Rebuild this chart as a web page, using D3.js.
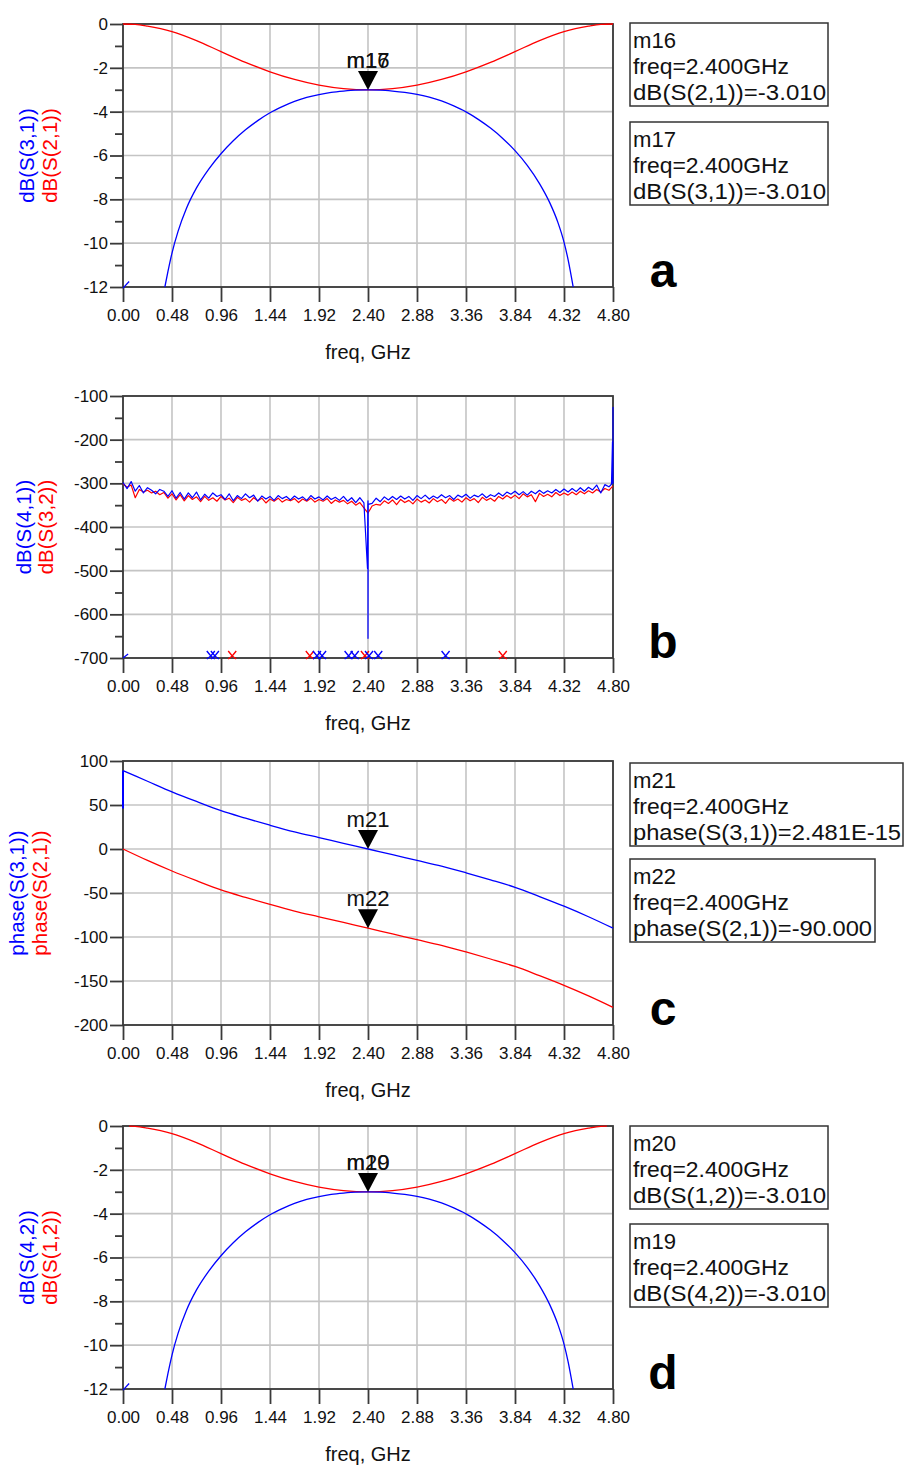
<!DOCTYPE html>
<html><head><meta charset="utf-8">
<script src="https://cdn.jsdelivr.net/npm/d3@7"></script>
<style>
body{margin:0;background:#fff}
svg{display:block}
text{font-family:"Liberation Sans",Arial,sans-serif}
</style>
</head><body>
<svg id="chart" width="904" height="1468"></svg>
<script>
// ---------- shared axis data ----------
const xTicks = [0, 0.48, 0.96, 1.44, 1.92, 2.40, 2.88, 3.36, 3.84, 4.32, 4.80];
const dbTicks = [0, -2, -4, -6, -8, -10, -12];
const dbMinor = [-1, -3, -5, -7, -9, -11];
const isoTicks = [-100, -200, -300, -400, -500, -600, -700];
const isoMinor = [-150, -250, -350, -450, -550, -650];
const phaseTicks = [100, 50, 0, -50, -100, -150, -200];

// ---------- panel a / d : coupling (dB) ----------
const thruFreq = [0, 0.12, 0.24, 0.48, 0.72, 0.96, 1.2, 1.44, 1.68, 1.92, 2.16, 2.4, 2.64, 2.88, 3.12, 3.36, 3.6, 3.84, 4.08, 4.32, 4.56, 4.68, 4.8];
const thruDb   = [0, -0.02, -0.10, -0.35, -0.76, -1.26, -1.75, -2.18, -2.53, -2.79, -2.95, -3.01, -2.95, -2.79, -2.53, -2.18, -1.75, -1.26, -0.76, -0.35, -0.10, -0.02, 0];
const thruFreqD = [0.06, 0.12, 0.24, 0.48, 0.72, 0.96, 1.2, 1.44, 1.68, 1.92, 2.16, 2.4, 2.64, 2.88, 3.12, 3.36, 3.6, 3.84, 4.08, 4.32, 4.56, 4.68, 4.74];
const thruDbD   = [-0.01, -0.02, -0.10, -0.35, -0.76, -1.26, -1.75, -2.18, -2.53, -2.79, -2.95, -3.01, -2.95, -2.79, -2.53, -2.18, -1.75, -1.26, -0.76, -0.35, -0.10, -0.02, -0.01];
const cplFreq = [0.41, 0.44, 0.48, 0.54, 0.62, 0.72, 0.84, 0.96, 1.08, 1.2, 1.32, 1.44, 1.56, 1.68, 1.8, 1.92, 2.04, 2.16, 2.28, 2.4,
                 2.52, 2.64, 2.76, 2.88, 3.0, 3.12, 3.24, 3.36, 3.48, 3.6, 3.72, 3.84, 3.96, 4.08, 4.18, 4.26, 4.32, 4.36, 4.41];
const cplDb   = [-12.0, -11.3, -10.45, -9.45, -8.43, -7.48, -6.62, -5.92, -5.33, -4.83, -4.41, -4.05, -3.77, -3.53, -3.35, -3.22, -3.12, -3.06, -3.02, -3.01,
                 -3.02, -3.06, -3.12, -3.21, -3.34, -3.51, -3.74, -4.01, -4.35, -4.75, -5.22, -5.78, -6.45, -7.28, -8.15, -9.05, -9.95, -10.75, -12.0];
const stubFreq = [0, 0.06];
const stubDb = [-12.05, -11.75];

// ---------- panel b : isolation (dB) ----------
const isoFreq = d3.range(0, 121).map(i => +(i * 0.04).toFixed(2));
const isoBlue = [-298,-312,-296,-318,-305,-322,-310,-316,-324,-314,-318,-330,-317,-334,-321,-336,-322,-333,-320,-338,
  -325,-334,-322,-330,-326,-337,-324,-340,-328,-335,-324,-333,-327,-341,-329,-336,-330,-339,-328,-335,
  -330,-338,-329,-336,-331,-339,-328,-336,-331,-338,-329,-337,-332,-339,-330,-341,-333,-344,-333,-345,
  -340,-346,-334,-342,-331,-338,-330,-337,-329,-336,-330,-339,-328,-335,-327,-336,-329,-334,-326,-333,
  -328,-337,-327,-332,-325,-334,-327,-331,-324,-333,-326,-330,-322,-329,-320,-325,-318,-326,-319,-327,
  -318,-324,-316,-323,-317,-322,-314,-321,-313,-320,-312,-319,-310,-318,-309,-315,-304,-322,-303,-308,-300];
const isoRed = [-301,-309,-304,-333,-314,-320,-316,-322,-318,-326,-321,-334,-324,-338,-326,-340,-328,-337,-331,-342,
  -330,-339,-333,-341,-330,-338,-334,-344,-332,-339,-335,-343,-333,-340,-334,-345,-336,-341,-334,-343,
  -337,-340,-335,-344,-336,-341,-334,-343,-337,-341,-335,-346,-338,-343,-339,-347,-341,-350,-344,-356,
  -368,-352,-348,-350,-340,-346,-338,-349,-337,-344,-339,-347,-336,-343,-338,-345,-335,-342,-337,-346,
  -334,-341,-336,-343,-333,-340,-335,-344,-332,-339,-334,-341,-330,-336,-328,-334,-327,-335,-324,-331,
  -326,-342,-323,-330,-325,-331,-321,-328,-322,-327,-320,-326,-318,-324,-317,-322,-314,-320,-312,-316,-306];
const spikeFreq = [2.395, 2.398, 2.400, 2.402, 4.785, 4.795, 4.797, 4.800];
const spikeBlue = [-495, -350, -655, -348, -302, -205, -300, -125];
const zeroBlueFreq = [0.86, 0.90, 1.90, 1.95, 2.21, 2.27, 2.41, 2.50, 3.16];
const zeroRedFreq = [1.07, 1.83, 2.37, 3.72];
const isoStubFreq = [0, 0.05];
const isoStubDb = [-700, -691];

// ---------- panel c : phase (deg) ----------
const phFreq = [0, 0.24, 0.48, 0.72, 0.96, 1.2, 1.44, 1.68, 1.92, 2.16, 2.4, 2.64, 2.88, 3.12, 3.36, 3.6, 3.84, 4.08, 4.32, 4.56, 4.8];
const phThru = [0, -13, -25, -36, -46.5, -55, -63, -70.5, -77, -83.5, -90, -96.5, -103, -109.5, -117, -125, -133.5, -144, -155, -167, -180];
const phCpl  = [89, 77, 65, 54, 43.5, 35, 27, 19.5, 13, 6.5, 0, -6.5, -13, -19.5, -27, -35, -43.5, -54, -65, -77, -90];
const phStubFreq = [0, 0];
const phStubVal = [46, 89];

const BLUE = "#0000ff", RED = "#ff0000";
const svg = d3.select("#chart");
const x = d3.scaleLinear().domain([0, 4.8]).range([123, 613]);
const zip = (f, v) => f.map((d, i) => [d, v[i]]);

function panel(cfg) {
  const y = d3.scaleLinear().domain(cfg.domain).range([cfg.bottom, cfg.top]);
  const g = svg.append("g");
  // grid
  g.selectAll(".gx").data(xTicks).join("line")
    .attr("x1", d => x(d)).attr("x2", d => x(d)).attr("y1", cfg.top).attr("y2", cfg.bottom)
    .attr("stroke", "#c4c4c4").attr("stroke-width", 1.6);
  g.selectAll(".gy").data(cfg.ticks).join("line")
    .attr("x1", 123).attr("x2", 613).attr("y1", d => y(d)).attr("y2", d => y(d))
    .attr("stroke", "#c4c4c4").attr("stroke-width", 1.6);
  // frame
  g.append("rect").attr("x", 123).attr("y", cfg.top).attr("width", 490).attr("height", cfg.bottom - cfg.top)
    .attr("fill", "none").attr("stroke", "#3a3a3a").attr("stroke-width", 1.8);
  // axes
  g.append("g").attr("transform", "translate(123,0)")
    .call(d3.axisLeft(y).tickValues(cfg.ticks).tickSize(13).tickPadding(2).tickFormat(d => String(d)));
  if (cfg.minor) {
    g.append("g").attr("transform", "translate(123,0)")
      .call(d3.axisLeft(y).tickValues(cfg.minor).tickSize(8).tickFormat(""));
  }
  g.append("g").attr("transform", `translate(0,${cfg.bottom})`)
    .call(d3.axisBottom(x).tickValues(xTicks).tickSize(15).tickPadding(7).tickFormat(d3.format(".2f")));
  g.selectAll(".domain").remove();
  g.selectAll(".tick line").attr("stroke", "#3a3a3a").attr("stroke-width", 1.8);
  g.selectAll(".tick text").attr("fill", "#111").attr("font-size", 17)
    .attr("font-family", "'Liberation Sans', Arial, sans-serif");
  // axis titles
  g.append("text").attr("x", 368).attr("y", cfg.bottom + 72).attr("text-anchor", "middle")
    .attr("font-size", 20).attr("fill", "#111").text("freq, GHz");
  cfg.titles.forEach(t => {
    g.append("text").attr("transform", `translate(${t.x},${(cfg.top + cfg.bottom) / 2}) rotate(-90)`)
      .attr("text-anchor", "middle").attr("font-size", 20.5).attr("fill", t.color).text(t.text);
  });
  // series
  cfg.series.forEach(s => {
    const line = d3.line().x(d => x(d[0])).y(d => y(d[1])).curve(s.smooth ? d3.curveMonotoneX : d3.curveLinear);
    g.append("path").attr("d", line(s.pts)).attr("fill", "none")
      .attr("stroke", s.color).attr("stroke-width", s.w || 1.3).attr("stroke-linejoin", "round");
  });
  // zero-value markers on the bottom axis
  (cfg.zeros || []).forEach(z => {
    z.freq.forEach(f => {
      const cx = x(f), cy = cfg.bottom - 2;
      g.append("path").attr("d", `M${cx - 4},${cy - 5}L${cx},${cy}L${cx + 4},${cy - 5}M${cx - 4},${cy + 3}L${cx},${cy}L${cx + 4},${cy + 3}`)
        .attr("fill", "none").attr("stroke", z.color).attr("stroke-width", 1.4);
    });
  });
  // markers
  (cfg.markers || []).forEach(m => {
    const px = x(m.f), py = y(m.v);
    g.append("path").attr("d", `M${px - 10},${py - 19}L${px + 10},${py - 19}L${px},${py}Z`).attr("fill", "#000");
    m.labels.forEach(l => {
      g.append("text").attr("x", px).attr("y", py - 22).attr("text-anchor", "middle")
        .attr("font-size", 22).attr("fill", "#111").attr("textLength", 43).attr("lengthAdjust", "spacingAndGlyphs").text(l);
    });
  });
  // readout boxes
  (cfg.boxes || []).forEach(b => {
    g.append("rect").attr("x", 630).attr("y", b.y).attr("width", b.w).attr("height", 83)
      .attr("fill", "#fff").attr("stroke", "#333").attr("stroke-width", 1.5);
    b.lines.forEach((t, i) => {
      g.append("text").attr("x", 633).attr("y", b.y + 25 + i * 26).attr("font-size", 22).attr("fill", "#111")
        .attr("textLength", b.lens[i]).attr("lengthAdjust", "spacingAndGlyphs").text(t);
    });
  });
  // panel letter
  g.append("text").attr("x", 663).attr("y", cfg.bottom).attr("text-anchor", "middle")
    .attr("font-size", 48).attr("font-weight", "bold").attr("fill", "#000").text(cfg.letter);
}

// panel a
panel({
  top: 24, bottom: 287, domain: [-12, 0], ticks: dbTicks, minor: dbMinor, letter: "a",
  titles: [{ text: "dB(S(3,1))", color: BLUE, x: 34 }, { text: "dB(S(2,1))", color: RED, x: 57 }],
  series: [
    { pts: zip(thruFreq, thruDb), color: RED, smooth: true },
    { pts: zip(cplFreq, cplDb), color: BLUE, smooth: true },
    { pts: zip(stubFreq, stubDb), color: BLUE }
  ],
  markers: [{ f: 2.4, v: -3.01, labels: ["m16", "m17"] }],
  boxes: [
    { y: 23, w: 198, lines: ["m16", "freq=2.400GHz", "dB(S(2,1))=-3.010"], lens: [43, 156, 193] },
    { y: 122, w: 198, lines: ["m17", "freq=2.400GHz", "dB(S(3,1))=-3.010"], lens: [43, 156, 193] }
  ]
});

// panel b
const bluePts = zip(isoFreq, isoBlue).concat(zip(spikeFreq, spikeBlue)).sort((a, b) => a[0] - b[0]);
panel({
  top: 396, bottom: 658, domain: [-700, -100], ticks: isoTicks, minor: isoMinor, letter: "b",
  titles: [{ text: "dB(S(4,1))", color: BLUE, x: 31 }, { text: "dB(S(3,2))", color: RED, x: 53 }],
  series: [
    { pts: zip(isoFreq, isoRed), color: RED, w: 1.2 },
    { pts: bluePts, color: BLUE, w: 1.2 },
    { pts: zip(isoStubFreq, isoStubDb), color: BLUE }
  ],
  zeros: [{ freq: zeroRedFreq, color: RED }, { freq: zeroBlueFreq, color: BLUE }]
});

// panel c
panel({
  top: 761, bottom: 1025, domain: [-200, 100], ticks: phaseTicks, letter: "c",
  titles: [{ text: "phase(S(3,1))", color: BLUE, x: 24 }, { text: "phase(S(2,1))", color: RED, x: 47 }],
  series: [
    { pts: zip(phFreq, phThru), color: RED, smooth: true },
    { pts: zip(phFreq, phCpl), color: BLUE, smooth: true },
    { pts: zip(phStubFreq, phStubVal), color: BLUE, w: 2 }
  ],
  markers: [{ f: 2.4, v: 0, labels: ["m21"] }, { f: 2.4, v: -90, labels: ["m22"] }],
  boxes: [
    { y: 763, w: 273, lines: ["m21", "freq=2.400GHz", "phase(S(3,1))=2.481E-15"], lens: [43, 156, 268] },
    { y: 859, w: 245, lines: ["m22", "freq=2.400GHz", "phase(S(2,1))=-90.000"], lens: [43, 156, 239] }
  ]
});

// panel d
panel({
  top: 1126, bottom: 1389, domain: [-12, 0], ticks: dbTicks, minor: dbMinor, letter: "d",
  titles: [{ text: "dB(S(4,2))", color: BLUE, x: 34 }, { text: "dB(S(1,2))", color: RED, x: 57 }],
  series: [
    { pts: zip(thruFreqD, thruDbD), color: RED, smooth: true },
    { pts: zip(cplFreq, cplDb), color: BLUE, smooth: true },
    { pts: zip(stubFreq, stubDb), color: BLUE }
  ],
  markers: [{ f: 2.4, v: -3.01, labels: ["m20", "m19"] }],
  boxes: [
    { y: 1126, w: 198, lines: ["m20", "freq=2.400GHz", "dB(S(1,2))=-3.010"], lens: [43, 156, 193] },
    { y: 1224, w: 198, lines: ["m19", "freq=2.400GHz", "dB(S(4,2))=-3.010"], lens: [43, 156, 193] }
  ]
});
</script>
</body></html>
